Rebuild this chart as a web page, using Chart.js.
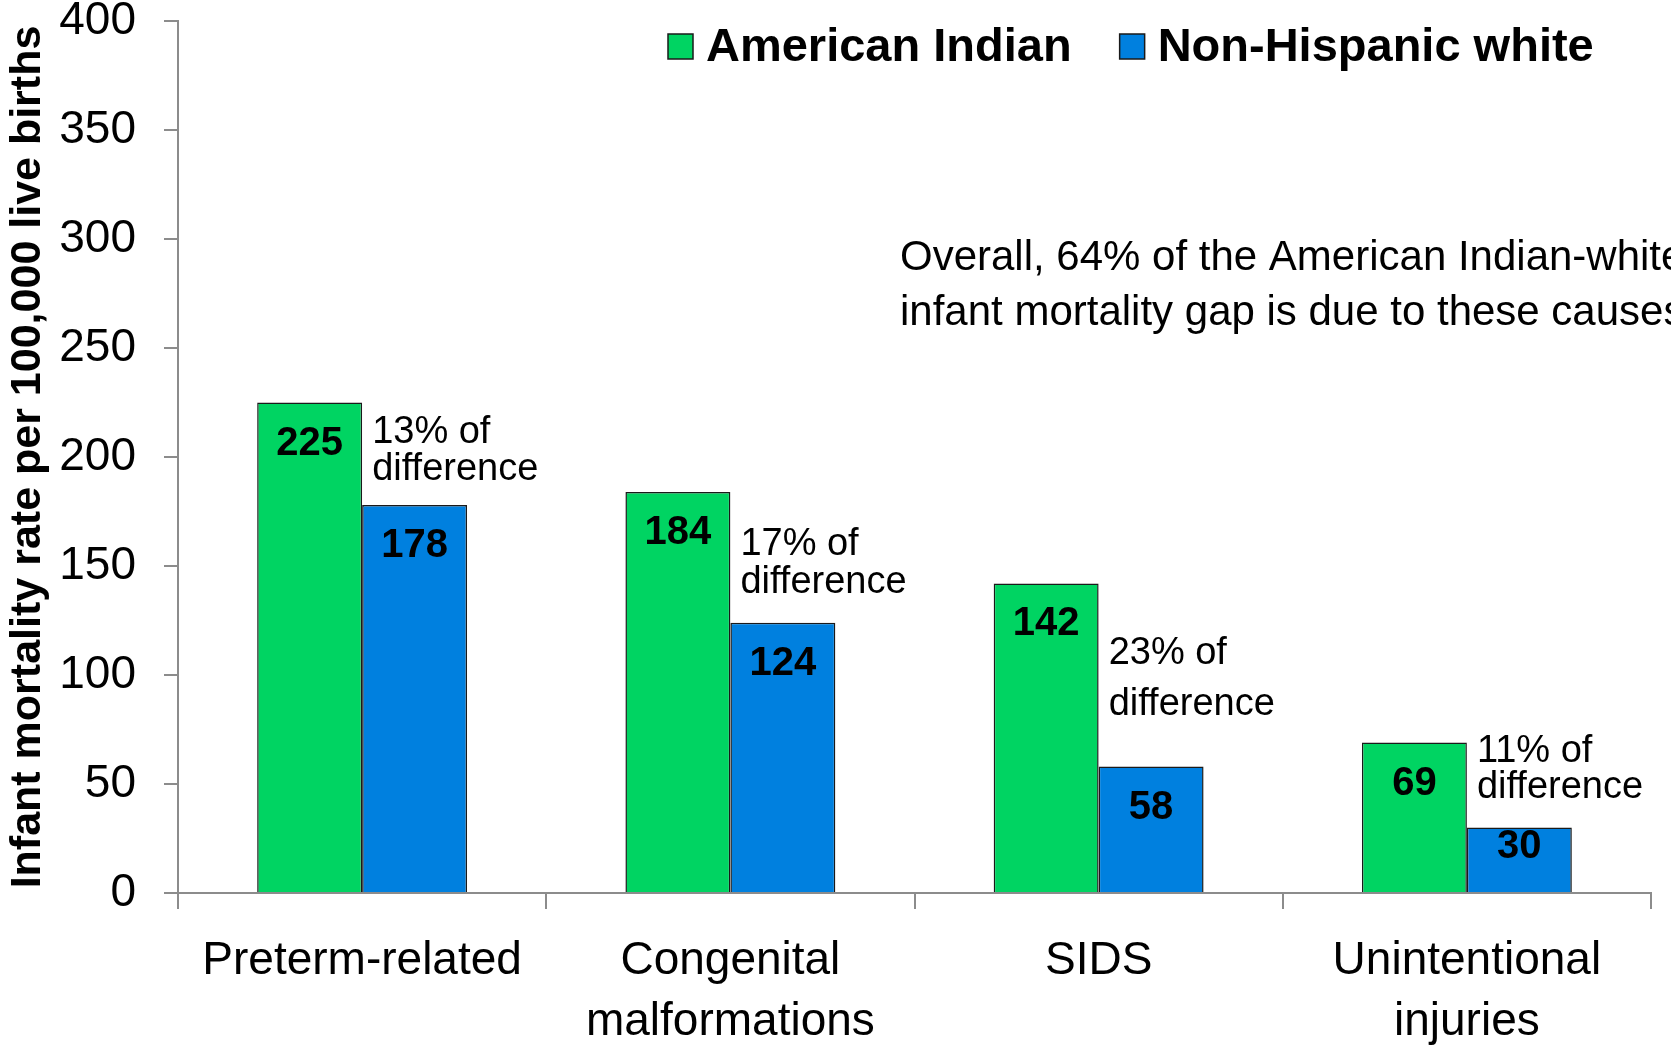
<!DOCTYPE html>
<html>
<head>
<meta charset="utf-8">
<script src="https://cdn.jsdelivr.net/npm/chart.js@4.4.1/dist/chart.umd.min.js"></script>
<style>
    body { margin: 0; background: #fff; }
    #wrap { width: 1671px; height: 1051px; }
</style>
</head>
<body>
<div id="wrap"><canvas id="chart" width="1671" height="1051"></canvas></div>
<script>
    // ── Datos ─────────────────────────────────────────────────────
    const categories = [['Preterm-related'], ['Congenital', 'malformations'], ['SIDS'], ['Unintentional', 'injuries']];
    const americanIndian = [225, 184, 142, 69];
    const nonHispanicWhite = [178, 124, 58, 30];
    const shareOfDifference = ['13% of', '17% of', '23% of', '11% of'];
    const overallNote = ['Overall, 64% of the American Indian-white', 'infant mortality gap is due to these causes'];
    const yMin = 0, yMax = 400, yStep = 50;

    // posición de las notas (en unidades del eje y) y separación entre líneas
    const noteAt = [212, 161, 111, 66];
    const noteGap = [37, 38, 51, 36];

    const FONT = "'Liberation Sans', Arial, sans-serif";
    const AXIS = '#8c8c8c';

    // ── Plugin: etiquetas, notas y leyenda ────────────────────────
    const annotate = {
        id: 'annotate',
        afterDatasetsDraw(chart) {
            const ctx = chart.ctx;
            const y = chart.scales.y;
            ctx.save();
            ctx.fillStyle = '#000';
            ctx.textBaseline = 'middle';

            // valores dentro de la barra
            ctx.font = `bold 40px ${FONT}`;
            ctx.textAlign = 'center';
            chart.data.datasets.forEach((ds, i) => {
                chart.getDatasetMeta(i).data.forEach((bar, j) => {
                    const h = bar.base - bar.y;
                    ctx.fillText(ds.data[j], bar.x, bar.y + Math.min(41, h - 45));
                });
            });

            // "% of difference"
            ctx.font = `38px ${FONT}`;
            ctx.textAlign = 'left';
            chart.getDatasetMeta(0).data.forEach((bar, j) => {
                const x = bar.x + bar.width / 2 + 10;
                const y0 = y.getPixelForValue(noteAt[j]) + 2;
                ctx.fillText(shareOfDifference[j], x, y0);
                ctx.fillText('difference', x, y0 + noteGap[j]);
            });

            // nota general
            ctx.font = `42px ${FONT}`;
            overallNote.forEach((t, k) => ctx.fillText(t, 900, 258 + k * 55));

            // leyenda
            ctx.font = `bold 47px ${FONT}`;
            let lx = 668;
            chart.data.datasets.forEach(ds => {
                ctx.fillStyle = ds.backgroundColor;
                ctx.fillRect(lx, 34, 25, 25);
                ctx.strokeStyle = '#1a1a1a'; ctx.lineWidth = 1.5;
                ctx.strokeRect(lx, 34, 25, 25);
                ctx.fillStyle = '#000';
                ctx.fillText(ds.label, lx + 38, 48);
                lx += 38 + ctx.measureText(ds.label).width + 48;
            });
            ctx.restore();
        }
    };

    // ── Gráfico de barras ─────────────────────────────────────────
    new Chart(document.getElementById('chart').getContext('2d'), {
        type: 'bar',
        data: {
            labels: categories,
            datasets: [
                { label: 'American Indian', data: americanIndian, backgroundColor: '#00d462', borderColor: '#1a1a1a', borderWidth: 1.5 },
                { label: 'Non-Hispanic white', data: nonHispanicWhite, backgroundColor: '#0080df', borderColor: '#1a1a1a', borderWidth: 1.5 }
            ]
        },
        options: {
            responsive: false, animation: false,
            layout: { padding: { top: 21, right: 20, left: 0, bottom: 0 } },
            datasets: { bar: { categoryPercentage: 0.57, barPercentage: 1 } },
            plugins: { legend: { display: false }, tooltip: { enabled: false } },
            scales: {
                x: {
                    grid: { drawOnChartArea: false, tickLength: 16, color: AXIS, lineWidth: 2 },
                    border: { color: AXIS, width: 2 },
                    ticks: { font: { family: FONT, size: 46, lineHeight: 1.33 }, color: '#000', padding: 22, maxRotation: 0 },
                    afterFit: s => { s.height = 158; s.paddingLeft = 0; s.paddingRight = 0; }
                },
                y: {
                    min: yMin, max: yMax,
                    grid: { drawOnChartArea: false, tickLength: 14, color: AXIS, lineWidth: 2 },
                    border: { color: AXIS, width: 2 },
                    ticks: { stepSize: yStep, font: { family: FONT, size: 46 }, color: '#000', padding: 28 },
                    title: {
                        display: true, text: 'Infant mortality rate per 100,000 live births',
                        font: { family: FONT, size: 43, weight: 'bold', lineHeight: 1 }, color: '#000',
                        padding: { top: 7, bottom: 0 }
                    },
                    afterFit: s => { s.width = 178; s.paddingTop = 0; s.paddingBottom = 0; }
                }
            }
        },
        plugins: [annotate]
    });
</script>
</body>
</html>
